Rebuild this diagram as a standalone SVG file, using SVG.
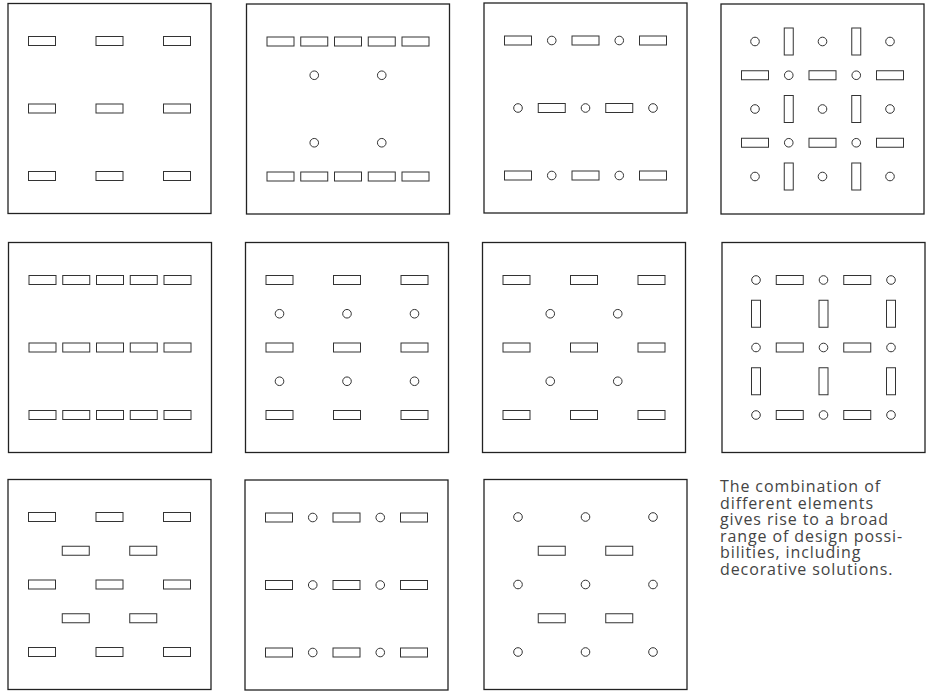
<svg xmlns="http://www.w3.org/2000/svg" xmlns:xlink="http://www.w3.org/1999/xlink" width="930" height="692" viewBox="0 0 930 692">
<style>
.frame{fill:#fff;stroke:#222;stroke-width:1.3}
.el{fill:#fff;stroke:#333;stroke-width:1}
.cap{font-family:"Open Sans","Liberation Sans",sans-serif;font-size:16px;letter-spacing:0.9px;fill:#444}
</style>
<defs>
<rect id="h" class="el" x="-13.5" y="-4.5" width="27" height="9"/>
<rect id="v" class="el" x="-4.5" y="-13.5" width="9" height="27"/>
<circle id="c" class="el" r="4.3"/>
</defs>
<rect width="930" height="692" fill="#fff"/>

<g id="panel1" transform="translate(8,3.5)">
<rect class="frame" width="203" height="210"/>
<use href="#h" x="34" y="37.5"/><use href="#h" x="101.5" y="37.5"/><use href="#h" x="169" y="37.5"/>
<use href="#h" x="34" y="105"/><use href="#h" x="101.5" y="105"/><use href="#h" x="169" y="105"/>
<use href="#h" x="34" y="172.5"/><use href="#h" x="101.5" y="172.5"/><use href="#h" x="169" y="172.5"/>
</g>

<g id="panel2" transform="translate(246.5,4)">
<rect class="frame" width="203" height="210"/>
<use href="#h" x="34" y="37.5"/><use href="#h" x="67.75" y="37.5"/><use href="#h" x="101.5" y="37.5"/><use href="#h" x="135.25" y="37.5"/><use href="#h" x="169" y="37.5"/>
<use href="#c" x="67.75" y="71.25"/><use href="#c" x="135.25" y="71.25"/>
<use href="#c" x="67.75" y="138.75"/><use href="#c" x="135.25" y="138.75"/>
<use href="#h" x="34" y="172.5"/><use href="#h" x="67.75" y="172.5"/><use href="#h" x="101.5" y="172.5"/><use href="#h" x="135.25" y="172.5"/><use href="#h" x="169" y="172.5"/>
</g>

<g id="panel3" transform="translate(484,3)">
<rect class="frame" width="203" height="210"/>
<use href="#h" x="34" y="37.5"/><use href="#c" x="67.75" y="37.5"/><use href="#h" x="101.5" y="37.5"/><use href="#c" x="135.25" y="37.5"/><use href="#h" x="169" y="37.5"/>
<use href="#c" x="34" y="105"/><use href="#h" x="67.75" y="105"/><use href="#c" x="101.5" y="105"/><use href="#h" x="135.25" y="105"/><use href="#c" x="169" y="105"/>
<use href="#h" x="34" y="172.5"/><use href="#c" x="67.75" y="172.5"/><use href="#h" x="101.5" y="172.5"/><use href="#c" x="135.25" y="172.5"/><use href="#h" x="169" y="172.5"/>
</g>

<g id="panel4" transform="translate(721,4)">
<rect class="frame" width="203" height="210"/>
<use href="#c" x="34" y="37.5"/><use href="#v" x="67.75" y="37.5"/><use href="#c" x="101.5" y="37.5"/><use href="#v" x="135.25" y="37.5"/><use href="#c" x="169" y="37.5"/>
<use href="#h" x="34" y="71.25"/><use href="#c" x="67.75" y="71.25"/><use href="#h" x="101.5" y="71.25"/><use href="#c" x="135.25" y="71.25"/><use href="#h" x="169" y="71.25"/>
<use href="#c" x="34" y="105"/><use href="#v" x="67.75" y="105"/><use href="#c" x="101.5" y="105"/><use href="#v" x="135.25" y="105"/><use href="#c" x="169" y="105"/>
<use href="#h" x="34" y="138.75"/><use href="#c" x="67.75" y="138.75"/><use href="#h" x="101.5" y="138.75"/><use href="#c" x="135.25" y="138.75"/><use href="#h" x="169" y="138.75"/>
<use href="#c" x="34" y="172.5"/><use href="#v" x="67.75" y="172.5"/><use href="#c" x="101.5" y="172.5"/><use href="#v" x="135.25" y="172.5"/><use href="#c" x="169" y="172.5"/>
</g>

<g id="panel5" transform="translate(8.5,242.5)">
<rect class="frame" width="203" height="210"/>
<use href="#h" x="34" y="37.5"/><use href="#h" x="67.75" y="37.5"/><use href="#h" x="101.5" y="37.5"/><use href="#h" x="135.25" y="37.5"/><use href="#h" x="169" y="37.5"/>
<use href="#h" x="34" y="105"/><use href="#h" x="67.75" y="105"/><use href="#h" x="101.5" y="105"/><use href="#h" x="135.25" y="105"/><use href="#h" x="169" y="105"/>
<use href="#h" x="34" y="172.5"/><use href="#h" x="67.75" y="172.5"/><use href="#h" x="101.5" y="172.5"/><use href="#h" x="135.25" y="172.5"/><use href="#h" x="169" y="172.5"/>
</g>

<g id="panel6" transform="translate(245.5,242.5)">
<rect class="frame" width="203" height="210"/>
<use href="#h" x="34" y="37.5"/><use href="#h" x="101.5" y="37.5"/><use href="#h" x="169" y="37.5"/>
<use href="#c" x="34" y="71.25"/><use href="#c" x="101.5" y="71.25"/><use href="#c" x="169" y="71.25"/>
<use href="#h" x="34" y="105"/><use href="#h" x="101.5" y="105"/><use href="#h" x="169" y="105"/>
<use href="#c" x="34" y="138.75"/><use href="#c" x="101.5" y="138.75"/><use href="#c" x="169" y="138.75"/>
<use href="#h" x="34" y="172.5"/><use href="#h" x="101.5" y="172.5"/><use href="#h" x="169" y="172.5"/>
</g>

<g id="panel7" transform="translate(482.5,242.5)">
<rect class="frame" width="203" height="210"/>
<use href="#h" x="34" y="37.5"/><use href="#h" x="101.5" y="37.5"/><use href="#h" x="169" y="37.5"/>
<use href="#c" x="67.75" y="71.25"/><use href="#c" x="135.25" y="71.25"/>
<use href="#h" x="34" y="105"/><use href="#h" x="101.5" y="105"/><use href="#h" x="169" y="105"/>
<use href="#c" x="67.75" y="138.75"/><use href="#c" x="135.25" y="138.75"/>
<use href="#h" x="34" y="172.5"/><use href="#h" x="101.5" y="172.5"/><use href="#h" x="169" y="172.5"/>
</g>

<g id="panel8" transform="translate(722,242.5)">
<rect class="frame" width="203" height="210"/>
<use href="#c" x="34" y="37.5"/><use href="#h" x="67.75" y="37.5"/><use href="#c" x="101.5" y="37.5"/><use href="#h" x="135.25" y="37.5"/><use href="#c" x="169" y="37.5"/>
<use href="#v" x="34" y="71.25"/><use href="#v" x="101.5" y="71.25"/><use href="#v" x="169" y="71.25"/>
<use href="#c" x="34" y="105"/><use href="#h" x="67.75" y="105"/><use href="#c" x="101.5" y="105"/><use href="#h" x="135.25" y="105"/><use href="#c" x="169" y="105"/>
<use href="#v" x="34" y="138.75"/><use href="#v" x="101.5" y="138.75"/><use href="#v" x="169" y="138.75"/>
<use href="#c" x="34" y="172.5"/><use href="#h" x="67.75" y="172.5"/><use href="#c" x="101.5" y="172.5"/><use href="#h" x="135.25" y="172.5"/><use href="#c" x="169" y="172.5"/>
</g>

<g id="panel9" transform="translate(8,479.5)">
<rect class="frame" width="203" height="210"/>
<use href="#h" x="34" y="37.5"/><use href="#h" x="101.5" y="37.5"/><use href="#h" x="169" y="37.5"/>
<use href="#h" x="67.75" y="71.25"/><use href="#h" x="135.25" y="71.25"/>
<use href="#h" x="34" y="105"/><use href="#h" x="101.5" y="105"/><use href="#h" x="169" y="105"/>
<use href="#h" x="67.75" y="138.75"/><use href="#h" x="135.25" y="138.75"/>
<use href="#h" x="34" y="172.5"/><use href="#h" x="101.5" y="172.5"/><use href="#h" x="169" y="172.5"/>
</g>

<g id="panel10" transform="translate(245,480)">
<rect class="frame" width="203" height="210"/>
<use href="#h" x="34" y="37.5"/><use href="#c" x="67.75" y="37.5"/><use href="#h" x="101.5" y="37.5"/><use href="#c" x="135.25" y="37.5"/><use href="#h" x="169" y="37.5"/>
<use href="#h" x="34" y="105"/><use href="#c" x="67.75" y="105"/><use href="#h" x="101.5" y="105"/><use href="#c" x="135.25" y="105"/><use href="#h" x="169" y="105"/>
<use href="#h" x="34" y="172.5"/><use href="#c" x="67.75" y="172.5"/><use href="#h" x="101.5" y="172.5"/><use href="#c" x="135.25" y="172.5"/><use href="#h" x="169" y="172.5"/>
</g>

<g id="panel11" transform="translate(484,479.5)">
<rect class="frame" width="203" height="210"/>
<use href="#c" x="34" y="37.5"/><use href="#c" x="101.5" y="37.5"/><use href="#c" x="169" y="37.5"/>
<use href="#h" x="67.75" y="71.25"/><use href="#h" x="135.25" y="71.25"/>
<use href="#c" x="34" y="105"/><use href="#c" x="101.5" y="105"/><use href="#c" x="169" y="105"/>
<use href="#h" x="67.75" y="138.75"/><use href="#h" x="135.25" y="138.75"/>
<use href="#c" x="34" y="172.5"/><use href="#c" x="101.5" y="172.5"/><use href="#c" x="169" y="172.5"/>
</g>

<g id="caption">
<text class="cap" x="720" y="492">The combination of</text>
<text class="cap" x="720" y="508.5">different elements</text>
<text class="cap" x="720" y="525">gives rise to a broad</text>
<text class="cap" x="720" y="541.5">range of design possi-</text>
<text class="cap" x="720" y="558">bilities, including</text>
<text class="cap" x="720" y="574.5">decorative solutions.</text>
</g>
</svg>
